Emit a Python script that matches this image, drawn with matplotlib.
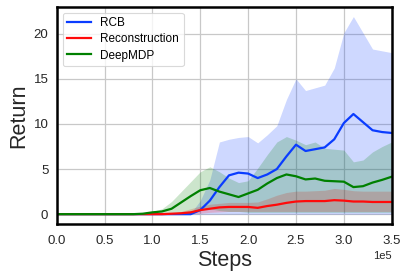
import matplotlib
matplotlib.use("Agg")
import matplotlib.pyplot as plt
import numpy as np

steps = np.arange(0, 36) * 1e4

rcb_mean = [0, 0, 0, 0, 0, 0, 0, 0, 0, 0, 0, 0, 0, 0, 0.0, 0.45, 1.5, 3.0, 4.3, 4.6,
            4.5, 4.0, 4.4, 5.0, 6.4, 7.7, 7.0, 7.2, 7.4, 8.3, 10.1, 11.1, 10.2, 9.3, 9.1, 9.0]
rcb_upper = [0, 0, 0, 0, 0, 0, 0, 0, 0, 0, 0, 0, 0, 0, 0.1, 1.5, 3.8, 8.0, 8.3, 8.5,
             8.6, 7.9, 8.8, 9.8, 12.7, 15.0, 13.7, 14.0, 14.3, 16.2, 20.1, 21.9, 20.1, 18.3, 18.1, 17.9]
rcb_lower = [0, 0, 0, 0, 0, 0, 0, 0, 0, 0, 0, 0, 0, 0, 0, 0, 0, 0, 0, 0,
             0, 0, 0, 0, 0, 0, 0, 0, 0, 0, 0, 0, 0, 0, 0, 0]

rec_mean = [0, 0, 0, 0, 0, 0, 0, 0, 0, 0, 0, 0, 0.05, 0.1, 0.2, 0.45, 0.6, 0.75, 0.8, 0.8,
            0.8, 0.7, 0.9, 1.05, 1.25, 1.4, 1.45, 1.45, 1.45, 1.55, 1.5, 1.4, 1.4, 1.35, 1.35, 1.35]
rec_upper = [0, 0, 0, 0, 0, 0, 0, 0, 0, 0, 0, 0, 0.1, 0.3, 0.6, 0.9, 1.1, 1.2, 1.3, 1.3,
             1.3, 1.35, 1.7, 2.1, 2.4, 2.55, 2.55, 2.6, 2.65, 2.85, 2.75, 2.6, 2.55, 2.55, 2.55, 2.55]
rec_lower = [0, 0, 0, 0, 0, 0, 0, 0, 0, 0, 0, 0, 0.0, 0.0, 0.05, 0.1, 0.2, 0.25, 0.3, 0.3,
             0.3, 0.3, 0.3, 0.3, 0.3, 0.3, 0.3, 0.3, 0.3, 0.3, 0.3, 0.3, 0.3, 0.3, 0.3, 0.3]

dmdp_mean = [0, 0, 0, 0, 0, 0, 0, 0, 0, 0.05, 0.2, 0.3, 0.6, 1.3, 2.0, 2.65, 2.9, 2.5, 2.2, 1.9,
             2.3, 2.7, 3.4, 4.0, 4.4, 4.2, 3.85, 3.95, 3.7, 3.65, 3.6, 3.0, 3.1, 3.5, 3.8, 4.15]
dmdp_upper = [0, 0, 0, 0, 0, 0, 0, 0, 0, 0.1, 0.3, 0.6, 1.4, 2.5, 3.6, 4.7, 5.25, 4.7, 4.0, 3.5,
              3.7, 5.1, 6.6, 8.0, 8.6, 8.2, 7.7, 8.0, 7.3, 7.2, 7.1, 5.8, 6.0, 6.9, 7.5, 8.0]
dmdp_lower = [0, 0, 0, 0, 0, 0, 0, 0, 0, 0, 0.1, 0.1, 0.1, 0.1, 0.3, 0.5, 0.6, 0.4, 0.3, 0.3,
              0.2, 0.2, 0.2, 0.2, 0.2, 0.2, 0.2, 0.2, 0.2, 0.2, 0.2, 0.2, 0.2, 0.2, 0.2, 0.2]

labels = ["RCB", "Reconstruction", "DeepMDP"]
colors = ["#0a3cff", "#ff0a0a", "#008000"]

plt.rcParams['font.family'] = ['Liberation Sans', 'DejaVu Sans']

fig = plt.figure(figsize=(4.09, 2.79), dpi=100)
ax = fig.add_axes([0.1386, 0.197, 0.9577 - 0.1386, 0.976 - 0.197])

series = [(rcb_mean, rcb_lower, rcb_upper), (rec_mean, rec_lower, rec_upper),
          (dmdp_mean, dmdp_lower, dmdp_upper)]
for (m, lo, hi), lab, c in zip(series, labels, colors):
    ax.fill_between(steps, lo, hi, color=c, alpha=0.2, linewidth=0)
    ax.plot(steps, m, color=c, linewidth=1.6, label=lab)

ax.set_xlim(0, 3.5e5)
ax.grid(True, color="#c8c8c8", linewidth=0.9)
ax.set_axisbelow(True)
for s in ax.spines.values():
    s.set_color("black")
    s.set_linewidth(1.8)
ax.tick_params(length=0, labelsize=9.5, colors="#262626")
ax.tick_params(axis='x', pad=8)
ax.tick_params(axis='y', pad=6)
ax.ticklabel_format(axis='x', style='sci', scilimits=(0, 0))
ax.xaxis.get_offset_text().set_fontsize(8)
ax.set_xlabel("Steps", fontsize=15.5, color="#262626", labelpad=2)
ax.set_ylabel("Return", fontsize=15.5, color="#262626", labelpad=3)
ax.set_xticks(np.arange(0, 3.51e5, 0.5e5))
ax.set_yticks([0, 5, 10, 15, 20])
leg = ax.legend(loc="upper left", fontsize=8.5, frameon=True, edgecolor="#d0d0d0",
                labelspacing=0.35)
leg.get_frame().set_linewidth(0.8)

fig.savefig("out.png", dpi=100)
